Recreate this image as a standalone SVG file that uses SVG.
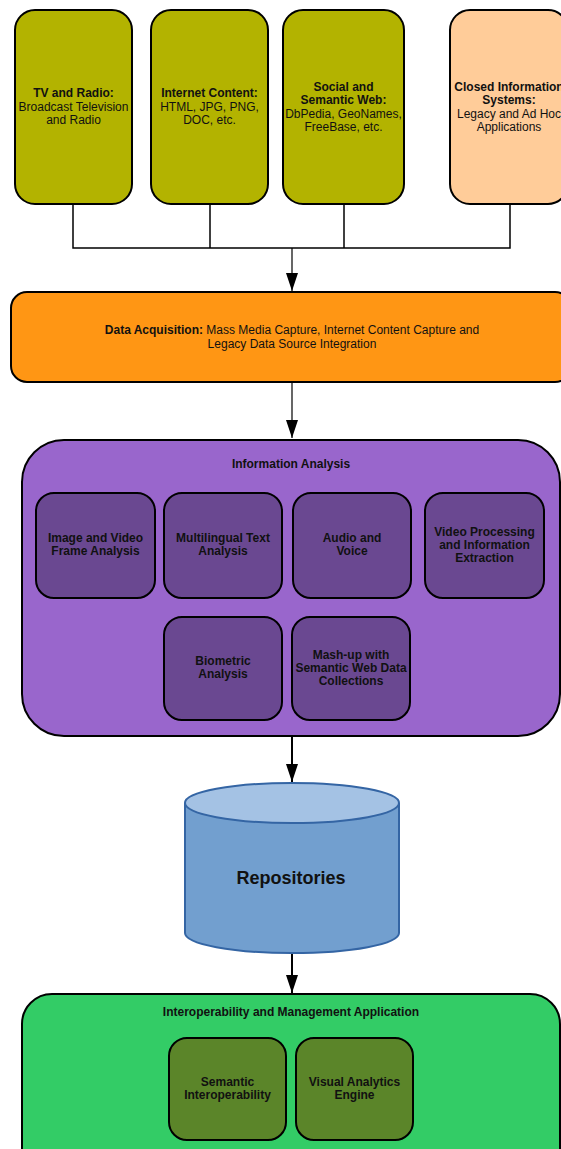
<svg xmlns="http://www.w3.org/2000/svg" width="561" height="1149" viewBox="0 0 561 1149">
  <style>
    text { font-family: "Liberation Sans", Arial, sans-serif; font-size: 12px; fill: #111; text-anchor: middle; }
    .b { font-weight: bold; }
    .src { fill: #b3b300; stroke: #000; stroke-width: 2; }
    .closed { fill: #ffcc99; stroke: #000; stroke-width: 2; }
    .acq { fill: #ff9614; stroke: #000; stroke-width: 2; }
    .analysis { fill: #9966cc; stroke: #000; stroke-width: 2; }
    .module { fill: #6a4891; stroke: #000; stroke-width: 2; }
    .app { fill: #33cc66; stroke: #000; stroke-width: 2; }
    .appmod { fill: #5b8529; stroke: #000; stroke-width: 2; }
    .wire { fill: none; stroke: #000; stroke-width: 1.5; }
    .thin { stroke-width: 1.2; }
    .thick { stroke-width: 2; }
  </style>
  <defs>
    <marker id="arrow" viewBox="0 0 18 12" refX="18" refY="6" markerWidth="18" markerHeight="12" markerUnits="userSpaceOnUse" orient="auto">
      <path d="M0,0 L18,6 L0,12 Z" fill="#000"/>
    </marker>
  </defs>

  <!-- connectors -->
  <g id="connectors">
    <path class="wire" d="M73,204 V248 H510 V204"/>
    <path class="wire" d="M210,204 V248"/>
    <path class="wire" d="M344,204 V248"/>
    <path class="wire thin" d="M292,248 V291" marker-end="url(#arrow)"/>
    <path class="wire thin" d="M292,383 V438" marker-end="url(#arrow)"/>
    <path class="wire thick" d="M292,737 V782" marker-end="url(#arrow)"/>
    <path class="wire thick" d="M292,953 V993" marker-end="url(#arrow)"/>
  </g>

  <!-- sources -->
  <g id="tv-radio">
    <rect class="src" x="15" y="10" width="117" height="194" rx="20"/>
    <text x="73.5" y="97" class="b">TV and Radio:</text>
    <text x="73.5" y="110.5">Broadcast Television</text>
    <text x="73.5" y="124">and Radio</text>
  </g>
  <g id="internet-content">
    <rect class="src" x="151" y="10" width="117" height="194" rx="20"/>
    <text x="209.5" y="97" class="b">Internet Content:</text>
    <text x="209.5" y="110.5">HTML, JPG, PNG,</text>
    <text x="209.5" y="124">DOC, etc.</text>
  </g>
  <g id="social-semantic-web">
    <rect class="src" x="283" y="10" width="121" height="194" rx="20"/>
    <text x="343.5" y="90.5" class="b">Social and</text>
    <text x="343.5" y="104" class="b">Semantic Web:</text>
    <text x="343.5" y="117.5">DbPedia, GeoNames,</text>
    <text x="343.5" y="131">FreeBase, etc.</text>
  </g>
  <g id="closed-systems">
    <rect class="closed" x="450" y="10" width="118" height="194" rx="20"/>
    <text x="509" y="90.5" class="b">Closed Information</text>
    <text x="509" y="104" class="b">Systems:</text>
    <text x="509" y="117.5">Legacy and Ad Hoc</text>
    <text x="509" y="131">Applications</text>
  </g>

  <!-- acquisition -->
  <g id="data-acquisition">
    <rect class="acq" x="11" y="292" width="560" height="90" rx="16"/>
    <text x="292" y="334"><tspan class="b">Data Acquisition:</tspan> Mass Media Capture, Internet Content Capture and</text>
    <text x="292" y="347.5">Legacy Data Source Integration</text>
  </g>

  <!-- analysis -->
  <g id="information-analysis">
    <rect class="analysis" x="22" y="440" width="538" height="296" rx="42"/>
    <text x="291" y="468" class="b">Information Analysis</text>
  </g>
  <g id="image-video">
    <rect class="module" x="36" y="493" width="119" height="105" rx="18"/>
    <text x="95.5" y="542" class="b">Image and Video</text>
    <text x="95.5" y="555" class="b">Frame Analysis</text>
  </g>
  <g id="multilingual-text">
    <rect class="module" x="164" y="493" width="118" height="105" rx="18"/>
    <text x="223" y="542" class="b">Multilingual Text</text>
    <text x="223" y="555" class="b">Analysis</text>
  </g>
  <g id="audio-voice">
    <rect class="module" x="293" y="493" width="118" height="105" rx="18"/>
    <text x="352" y="542" class="b">Audio and</text>
    <text x="352" y="555" class="b">Voice</text>
  </g>
  <g id="video-processing">
    <rect class="module" x="425" y="493" width="119" height="105" rx="18"/>
    <text x="484.5" y="536" class="b">Video Processing</text>
    <text x="484.5" y="549" class="b">and Information</text>
    <text x="484.5" y="562" class="b">Extraction</text>
  </g>
  <g id="biometric">
    <rect class="module" x="164" y="617" width="118" height="103" rx="18"/>
    <text x="223" y="665" class="b">Biometric</text>
    <text x="223" y="678" class="b">Analysis</text>
  </g>
  <g id="mashup">
    <rect class="module" x="292" y="617" width="118" height="103" rx="18"/>
    <text x="351" y="658.5" class="b">Mash-up with</text>
    <text x="351" y="671.5" class="b">Semantic Web Data</text>
    <text x="351" y="684.5" class="b">Collections</text>
  </g>

  <!-- storage -->
  <g id="repositories">
    <path d="M185,803 V933 A107,20 0 0 0 399,933 V803" fill="#729fcf" stroke="#3465a4" stroke-width="2"/>
    <ellipse cx="292" cy="803" rx="107" ry="20" fill="#a4c2e4" stroke="#3465a4" stroke-width="2"/>
    <text x="291" y="884" class="b" style="font-size:18px">Repositories</text>
  </g>

  <!-- application -->
  <g id="interoperability-app">
    <rect class="app" x="22" y="994" width="538" height="200" rx="30"/>
    <text x="291" y="1016" class="b">Interoperability and Management Application</text>
  </g>
  <g id="semantic-interop">
    <rect class="appmod" x="169" y="1038" width="117" height="102" rx="18"/>
    <text x="227.5" y="1086" class="b">Semantic</text>
    <text x="227.5" y="1099" class="b">Interoperability</text>
  </g>
  <g id="visual-analytics">
    <rect class="appmod" x="296" y="1038" width="117" height="102" rx="18"/>
    <text x="354.5" y="1086" class="b">Visual Analytics</text>
    <text x="354.5" y="1099" class="b">Engine</text>
  </g>
</svg>
